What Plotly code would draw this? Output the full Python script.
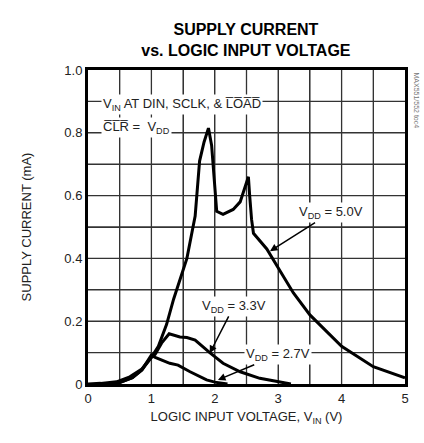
import plotly.graph_objects as go

# 5.0 V supply curve
v50_x = [0.0, 0.2, 0.45, 0.66, 0.85, 1.0, 1.11, 1.24, 1.35, 1.45, 1.56, 1.69, 1.72, 1.76, 1.83, 1.90, 1.95, 1.98, 2.0, 2.03, 2.13, 2.29, 2.40, 2.53, 2.55, 2.58, 2.61, 2.82, 3.03, 3.24, 3.5, 4.0, 4.5, 5.0]
v50_y = [0.0, 0.002, 0.007, 0.023, 0.048, 0.085, 0.12, 0.19, 0.27, 0.33, 0.40, 0.535, 0.62, 0.71, 0.77, 0.815, 0.76, 0.68, 0.60, 0.55, 0.54, 0.556, 0.58, 0.66, 0.60, 0.524, 0.48, 0.43, 0.36, 0.29, 0.22, 0.12, 0.055, 0.02]

# 3.3 V supply curve
v33_x = [0.3, 0.5, 0.7, 0.85, 1.0, 1.06, 1.16, 1.28, 1.45, 1.56, 1.69, 1.8, 1.92, 2.13, 2.4, 2.71, 3.0, 3.2]
v33_y = [0.0, 0.005, 0.02, 0.045, 0.085, 0.095, 0.13, 0.16, 0.15, 0.148, 0.14, 0.12, 0.10, 0.066, 0.039, 0.018, 0.006, 0.0]

# 2.7 V supply curve
v27_x = [0.3, 0.5, 0.7, 0.85, 1.0, 1.06, 1.29, 1.42, 1.61, 1.87, 2.0, 2.2]
v27_y = [0.0, 0.005, 0.02, 0.045, 0.092, 0.085, 0.066, 0.06, 0.039, 0.013, 0.006, 0.0]

x_ticks = [0, 1, 2, 3, 4, 5]
x_ticklabels = ["0", "1", "2", "3", "4", "5"]
y_ticks = [0, 0.2, 0.4, 0.6, 0.8, 1.0]
y_ticklabels = ["0", "0.2", "0.4", "0.6", "0.8", "1.0"]
# grid divisions
x_grid = [0.5, 1, 1.5, 2, 2.5, 3, 3.5, 4, 4.5]
y_grid = [0.1, 0.2, 0.3, 0.4, 0.5, 0.6, 0.7, 0.8, 0.9]

FONT = "Liberation Sans Narrow, Arial Narrow, Liberation Sans, sans-serif"

fig = go.Figure()

for gx in x_grid:
    fig.add_shape(type="line", xref="x", yref="paper", x0=gx, x1=gx, y0=0, y1=1,
                  line=dict(color="#333333", width=1.3), layer="below")
for gy in y_grid:
    fig.add_shape(type="line", xref="paper", yref="y", x0=0, x1=1, y0=gy, y1=gy,
                  line=dict(color="#333333", width=1.3), layer="below")

for xs, ys in [(v50_x, v50_y), (v33_x, v33_y), (v27_x, v27_y)]:
    fig.add_trace(go.Scatter(x=xs, y=ys, mode="lines",
                             line=dict(color="black", width=3),
                             showlegend=False, hoverinfo="skip"))

ann_font = dict(family=FONT, size=13, color="#222")

def label(text, xh, yh, xt, yt):
    fig.add_annotation(x=xh, y=yh, ax=xt, ay=yt, xref="x", yref="y",
                       axref="x", ayref="y", text=text, showarrow=True,
                       arrowhead=2, arrowsize=1.0, arrowwidth=1.5, arrowcolor="black",
                       font=ann_font, bgcolor="white", borderpad=1)

label("V<sub>DD</sub> = 5.0V", 2.87, 0.423, 3.83, 0.546)
label("V<sub>DD</sub> = 3.3V", 1.92, 0.098, 2.30, 0.247)
label("V<sub>DD</sub> = 2.7V", 2.05, 0.013, 3.0, 0.093)

fig.add_annotation(x=0.2, y=0.891, xref="x", yref="y", xanchor="left",
                   text="V<sub>IN</sub> AT DIN, SCLK, &amp; L\u0305O\u0305A\u0305D\u0305",
                   showarrow=False, font=ann_font, bgcolor="white", borderpad=1)
fig.add_annotation(x=0.2, y=0.818, xref="x", yref="y", xanchor="left",
                   text="C\u0305L\u0305R\u0305 =  V<sub>DD</sub>",
                   showarrow=False, font=ann_font, bgcolor="white", borderpad=1)

fig.add_annotation(x=1.0, y=1.0, xref="paper", yref="paper", xanchor="left",
                   yanchor="top", xshift=6, text="MAX551/552 toc4", textangle=90,
                   showarrow=False, font=dict(family=FONT, size=7, color="#777"))

fig.update_layout(
    width=424, height=443,
    margin=dict(l=88, r=19, t=70, b=59),
    paper_bgcolor="white", plot_bgcolor="white",
    font=dict(family=FONT, size=13, color="#222"),
    title=dict(text="<b>SUPPLY CURRENT<br>vs. LOGIC INPUT VOLTAGE</b>",
               x=0.58, xanchor="center", y=0.92, yanchor="bottom",
               font=dict(family=FONT, size=16, color="black")),
    xaxis=dict(range=[0, 5], tickvals=x_ticks, ticktext=x_ticklabels,
               showgrid=False, zeroline=False, showline=True, linecolor="black",
               linewidth=3, mirror=True, ticks="",
               minor=dict(dtick=0.5, showgrid=True, gridcolor="#333", gridwidth=1.3),
               title=dict(text="LOGIC INPUT VOLTAGE, V<sub>IN</sub> (V)", standoff=8,
                          font=dict(family=FONT, size=13))),
    yaxis=dict(range=[0, 1.0], tickvals=y_ticks, ticktext=y_ticklabels,
               showgrid=False, zeroline=False, showline=True, linecolor="black",
               linewidth=3, mirror=True, ticks="",
               minor=dict(dtick=0.1, showgrid=True, gridcolor="#333", gridwidth=1.3),
               title=dict(text="SUPPLY CURRENT (mA)", standoff=30,
                          font=dict(family=FONT, size=13))),
)

fig.write_html("out.html")
